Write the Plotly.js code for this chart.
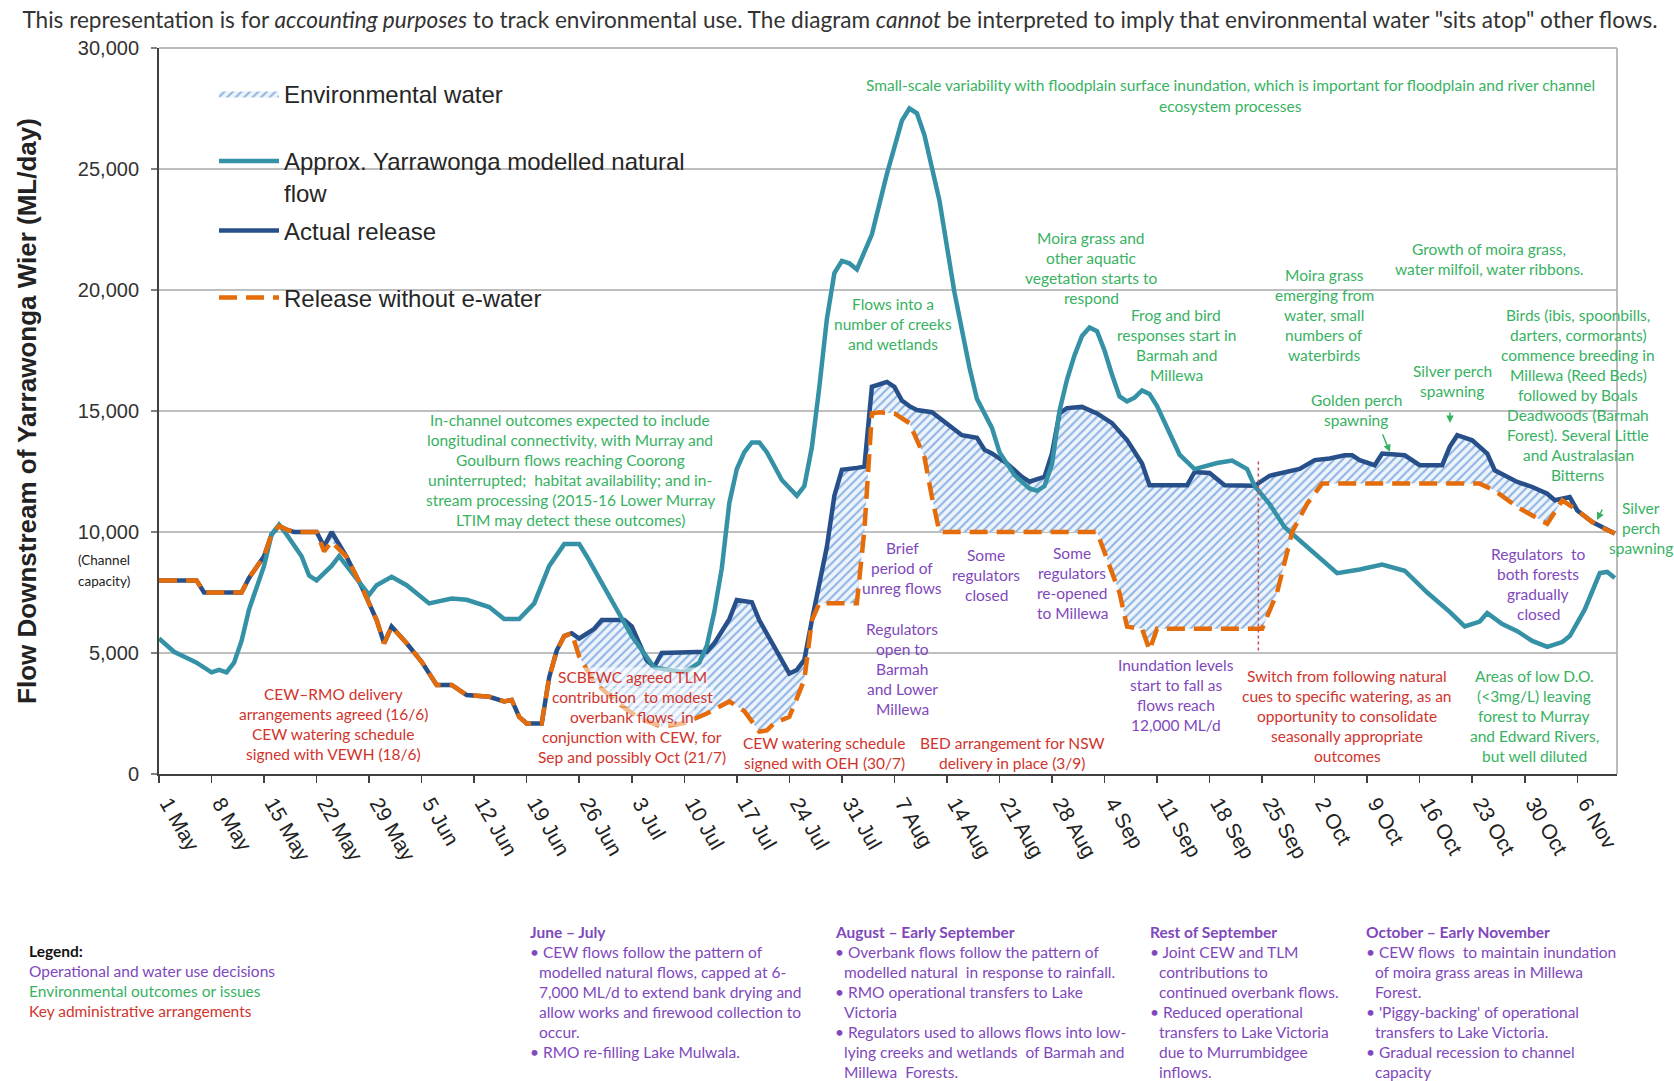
<!DOCTYPE html>
<html><head><meta charset="utf-8">
<script src="https://cdn.plot.ly/plotly-3.0.1.min.js"></script>
<style>html,body{margin:0;padding:0;background:#fff}#chart{width:1674px;height:1081px}</style>
</head><body><div id="chart"></div>
<script>
// ---------------- DATA ----------------
const natDates = ['2015-05-01','2015-05-03','2015-05-05','2015-05-06','2015-05-08','2015-05-09','2015-05-10','2015-05-11','2015-05-12','2015-05-13','2015-05-15','2015-05-16','2015-05-17','2015-05-18','2015-05-20','2015-05-21','2015-05-22','2015-05-24','2015-05-25','2015-05-27','2015-05-29','2015-05-30','2015-06-01','2015-06-03','2015-06-05','2015-06-06','2015-06-09','2015-06-11','2015-06-14','2015-06-16','2015-06-18','2015-06-20','2015-06-22','2015-06-24','2015-06-26','2015-06-27','2015-06-29','2015-07-01','2015-07-03','2015-07-06','2015-07-08','2015-07-10','2015-07-12','2015-07-13','2015-07-14','2015-07-15','2015-07-16','2015-07-17','2015-07-18','2015-07-19','2015-07-20','2015-07-21','2015-07-23','2015-07-25','2015-07-26','2015-07-27','2015-07-28','2015-07-29','2015-07-30','2015-07-31','2015-08-01','2015-08-02','2015-08-04','2015-08-06','2015-08-08','2015-08-09','2015-08-10','2015-08-11','2015-08-13','2015-08-15','2015-08-17','2015-08-18','2015-08-20','2015-08-21','2015-08-23','2015-08-25','2015-08-26','2015-08-27','2015-08-28','2015-08-29','2015-08-30','2015-08-31','2015-09-01','2015-09-02','2015-09-03','2015-09-04','2015-09-05','2015-09-06','2015-09-07','2015-09-08','2015-09-09','2015-09-10','2015-09-11','2015-09-13','2015-09-14','2015-09-16','2015-09-19','2015-09-21','2015-09-23','2015-09-24','2015-09-26','2015-09-28','2015-09-30','2015-10-02','2015-10-05','2015-10-08','2015-10-11','2015-10-14','2015-10-17','2015-10-20','2015-10-22','2015-10-24','2015-10-25','2015-10-27','2015-10-29','2015-10-31','2015-11-02','2015-11-04','2015-11-05','2015-11-07','2015-11-09','2015-11-10','2015-11-11'];
const natFlow = [5600,5050,4750,4600,4200,4300,4200,4600,5500,6800,8600,9900,10300,9900,9000,8200,8000,8600,9000,8200,7400,7800,8150,7800,7300,7050,7250,7200,6900,6400,6400,7050,8600,9500,9500,9000,7900,6800,5700,4400,4300,4200,4600,5300,6700,8500,11200,12600,13300,13700,13700,13300,12150,11500,11900,13500,16000,18800,20700,21200,21100,20850,22300,24800,27000,27500,27300,26400,23700,19900,16800,15500,14300,13300,12350,11800,11700,11900,12800,15000,16300,17300,18100,18450,18300,17500,16500,15600,15400,15550,15850,15700,15200,13900,13200,12600,12850,12950,12600,11900,11150,10200,9650,9100,8300,8450,8650,8400,7500,6700,6100,6300,6650,6200,5900,5500,5250,5450,5700,6800,8300,8350,8100];

const relDates = ['2015-05-01','2015-05-06','2015-05-07','2015-05-12','2015-05-13','2015-05-15','2015-05-16','2015-05-17','2015-05-18','2015-05-19','2015-05-22','2015-05-23','2015-05-24','2015-05-26','2015-05-28','2015-05-30','2015-05-31','2015-06-01','2015-06-03','2015-06-05','2015-06-07','2015-06-09','2015-06-11','2015-06-14','2015-06-16','2015-06-17','2015-06-18','2015-06-19','2015-06-21','2015-06-22','2015-06-23','2015-06-24','2015-06-25','2015-06-26','2015-06-28','2015-06-29','2015-07-02','2015-07-03','2015-07-05','2015-07-06','2015-07-07','2015-07-13','2015-07-14','2015-07-16','2015-07-17','2015-07-19','2015-07-20','2015-07-22','2015-07-24','2015-07-25','2015-07-26','2015-07-27','2015-07-29','2015-07-30','2015-07-31','2015-08-02','2015-08-03','2015-08-04','2015-08-06','2015-08-07','2015-08-08','2015-08-09','2015-08-10','2015-08-12','2015-08-14','2015-08-16','2015-08-18','2015-08-19','2015-08-20','2015-08-22','2015-08-24','2015-08-25','2015-08-27','2015-08-28','2015-08-29','2015-08-30','2015-09-01','2015-09-03','2015-09-05','2015-09-07','2015-09-09','2015-09-10','2015-09-15','2015-09-16','2015-09-18','2015-09-20','2015-09-24','2015-09-26','2015-09-30','2015-10-02','2015-10-04','2015-10-06','2015-10-07','2015-10-08','2015-10-10','2015-10-11','2015-10-14','2015-10-16','2015-10-19','2015-10-20','2015-10-21','2015-10-23','2015-10-25','2015-10-26','2015-10-29','2015-10-31','2015-11-02','2015-11-03','2015-11-05','2015-11-06','2015-11-08','2015-11-10','2015-11-11'];
const relFlow = [8000,8000,7500,7500,8100,9000,9900,10250,10100,10000,10000,9400,10000,8970,7740,6360,5400,6090,5400,4640,3680,3680,3260,3190,3000,3060,2360,2090,2090,4000,5100,5700,5820,5600,6000,6360,6360,6100,4700,4430,5000,5050,5400,6400,7190,7100,6350,5250,4150,4300,4720,6350,9390,11500,12570,12650,12700,16000,16200,16000,15430,15200,15040,14950,14500,14000,13890,13400,13250,12830,12280,12080,12280,13250,14900,15120,15170,14900,14500,13800,12830,11930,11930,12480,12440,11930,11910,12325,12610,12970,13040,13170,13170,12970,12760,13240,13170,12760,12760,13520,14000,13790,13240,12550,12070,11860,11580,11310,11440,10890,10410,10070,9940];

const noEwDates = ['2015-05-01','2015-05-06','2015-05-07','2015-05-12','2015-05-13','2015-05-15','2015-05-16','2015-05-17','2015-05-18','2015-05-19','2015-05-22','2015-05-23','2015-05-24','2015-05-26','2015-05-28','2015-05-30','2015-05-31','2015-06-01','2015-06-03','2015-06-05','2015-06-07','2015-06-09','2015-06-11','2015-06-14','2015-06-16','2015-06-17','2015-06-18','2015-06-19','2015-06-21','2015-06-22','2015-06-23','2015-06-24','2015-06-25','2015-06-26','2015-06-28','2015-07-01','2015-07-04','2015-07-07','2015-07-10','2015-07-13','2015-07-16','2015-07-18','2015-07-20','2015-07-21','2015-07-22','2015-07-24','2015-07-26','2015-07-27','2015-07-28','2015-08-02','2015-08-03','2015-08-04','2015-08-05','2015-08-07','2015-08-09','2015-08-11','2015-08-12','2015-08-13','2015-09-03','2015-09-04','2015-09-06','2015-09-07','2015-09-09','2015-09-10','2015-09-11','2015-09-25','2015-09-27','2015-09-29','2015-10-01','2015-10-03','2015-10-24','2015-10-26','2015-10-29','2015-11-02','2015-11-04','2015-11-06','2015-11-08','2015-11-10','2015-11-11'];
const noEwFlow = [8000,8000,7500,7500,8100,9000,9900,10250,10100,10000,10000,9200,9600,8970,7740,6360,5400,6090,5400,4640,3680,3680,3260,3190,3000,3060,2360,2090,2090,4000,5100,5700,5820,4850,3800,2970,2300,1950,2100,2500,3000,2600,1750,1800,2100,2360,3900,6350,7060,7060,10080,14900,14950,14900,14500,13100,11440,10000,10000,9130,7480,6090,6000,5120,6000,6000,7500,10000,11170,12000,12000,11710,11030,10340,11310,10890,10410,10070,9940];

const seriesNames = ['Environmental water','Approx. Yarrawonga modelled natural<br>flow','Actual release','Release without e-water'];
const yTitle = 'Flow Downstream of Yarrawonga Wier (ML/day)';
const topNote = 'This representation is for <i>accounting purposes</i> to track environmental use. The diagram <i>cannot</i> be interpreted to imply that environmental water "sits atop" other flows.';
const channelNote = ['(Channel','capacity)'];
const switchMarkerDate = '2015-09-24 12:00';
const switchMarkerRange = [5100, 13000];

// green: environmental outcomes
const noteFloodplain = ['Small-scale variability with floodplain surface inundation, which is important for floodplain and river channel','ecosystem processes'];
const noteMoiraVeg = ['Moira grass and','other aquatic','vegetation starts to','respond'];
const noteCreeks = ['Flows into a','number of creeks','and wetlands'];
const noteFrog = ['Frog and bird','responses start in','Barmah and','Millewa'];
const noteMoiraEmerg = ['Moira grass','emerging from','water, small','numbers of','waterbirds'];
const noteGrowth = ['Growth of moira grass,','water milfoil, water ribbons.'];
const noteBirds = ['Birds (ibis, spoonbills,','darters, cormorants)','commence breeding in','Millewa (Reed Beds)','followed by Boals','Deadwoods (Barmah','Forest). Several Little','and Australasian','Bitterns'];
const noteSilver1 = ['Silver perch','spawning'];
const noteGolden = ['Golden perch','spawning'];
const noteSilver2 = ['Silver','perch','spawning'];
const noteInChannel = ['In-channel outcomes expected to include','longitudinal connectivity, with Murray and','Goulburn flows reaching Coorong','uninterrupted;  habitat availability; and in-','stream processing (2015-16 Lower Murray','LTIM may detect these outcomes)'];
const noteLowDO = ['Areas of low D.O.','(&lt;3mg/L) leaving','forest to Murray','and Edward Rivers,','but well diluted'];
// purple: operational decisions
const noteBrief = ['Brief','period of','unreg flows'];
const noteRegOpen = ['Regulators','open to','Barmah','and Lower','Millewa'];
const noteRegClosed = ['Some','regulators','closed'];
const noteRegReopen = ['Some','regulators','re-opened','to Millewa'];
const noteInundation = ['Inundation levels','start to fall as','flows reach','12,000 ML/d'];
const noteForests = ['Regulators  to','both forests','gradually','closed'];
// red: administrative arrangements
const noteCewRmo = ['CEW–RMO delivery','arrangements agreed (16/6)','CEW watering schedule','signed with VEWH (18/6)'];
const noteScbewc = ['SCBEWC agreed TLM','contribution  to modest','overbank flows, in','conjunction with CEW, for','Sep and possibly Oct (21/7)'];
const noteOeh = ['CEW watering schedule','signed with OEH (30/7)'];
const noteBed = ['BED arrangement for NSW','delivery in place (3/9)'];
const noteSwitch = ['Switch from following natural','cues to specific watering, as an','opportunity to consolidate','seasonally appropriate','outcomes'];
// bottom blocks
const legendKey = ['<b>Legend:</b>','Operational and water use decisions','Environmental outcomes or issues','Key administrative arrangements'];
const periodJunJul = ['<b>June – July</b>','• CEW flows follow the pattern of','modelled natural flows, capped at 6-','7,000 ML/d to extend bank drying and','allow works and firewood collection to','occur.','• RMO re-filling Lake Mulwala.'];
const periodAug = ['<b>August – Early September</b>','• Overbank flows follow the pattern of','modelled natural  in response to rainfall.','• RMO operational transfers to Lake','Victoria','• Regulators used to allows flows into low-','lying creeks and wetlands  of Barmah and','Millewa  Forests.'];
const periodSep = ['<b>Rest of September</b>','• Joint CEW and TLM','contributions to','continued overbank flows.','• Reduced operational','transfers to Lake Victoria','due to Murrumbidgee','inflows.'];
const periodOct = ['<b>October – Early November</b>','• CEW flows  to maintain inundation','of moira grass areas in Millewa','Forest.','• \'Piggy-backing\' of operational','transfers to Lake Victoria.','• Gradual recession to channel','capacity'];

// ---------------- STYLE / LAYOUT ----------------
const TEAL = '#3591A6', BLUE = '#27508A', ORANGE = '#E46C0A';
const GREEN = '#38B262', PURPLE = '#8048BC', RED = '#D0342C';
const NOTE_FONT = 'Lato, "Open Sans", sans-serif';
const AX_FONT = '"Liberation Sans", Arial, sans-serif';
const NOTE_SIZE = 15.5;
const L = 159, R = 1617, T = 48, B = 774;
const px = X => (X - L) / (R - L);
const py = Y => (B - Y) / (B - T);

const annotations = [];
function addBlock(lines, X, Y, color, opt) {
  opt = opt || {};
  const lh = opt.lh || 20, anchor = opt.anchor || 'center', size = opt.size || NOTE_SIZE;
  lines.forEach((t, i) => {
    const indent = (opt.indent && i > 0 && t.charAt(0) !== '•') ? opt.indent : 0;
    const col = Array.isArray(color) ? color[i] : color;
    const a = {xref:'paper', yref:'paper', x:px(X), y:py(Y + i*lh), xshift:indent, text:t,
      showarrow:false, xanchor:anchor, yanchor:'middle',
      font:{family:NOTE_FONT, size:size, color:col}};
    if (opt.bg) { a.bgcolor = opt.bg; a.borderpad = 0; }
    annotations.push(a);
  });
}
addBlock(noteFloodplain, 1230, 85, GREEN, {lh:21});
addBlock(noteMoiraVeg, 1091, 238, GREEN);
addBlock(noteCreeks, 893, 304, GREEN);
addBlock(noteFrog, 1176, 315, GREEN);
addBlock(noteMoiraEmerg, 1324, 275, GREEN);
addBlock(noteGrowth, 1489, 249, GREEN);
addBlock(noteBirds, 1578, 315, GREEN);
addBlock(noteSilver1, 1452, 371, GREEN);
addBlock(noteGolden, 1356, 400, GREEN);
addBlock(noteSilver2, 1641, 508, GREEN);
addBlock(noteInChannel, 570, 420, GREEN);
addBlock(noteLowDO, 1534, 676, GREEN);
addBlock(noteBrief, 902, 548, PURPLE);
addBlock(noteRegOpen, 902, 629, PURPLE);
addBlock(noteRegClosed, 986, 555, PURPLE);
addBlock(noteRegReopen, 1072, 553, PURPLE);
addBlock(noteInundation, 1176, 665, PURPLE);
addBlock(noteForests, 1538, 554, PURPLE);
addBlock(noteCewRmo, 333, 694, RED);
addBlock(noteScbewc, 632, 677, RED, {bg:'rgba(255,255,255,0.55)'});
addBlock(noteOeh, 824, 743, RED);
addBlock(noteBed, 1012, 743, RED);
addBlock(noteSwitch, 1347, 676, RED);
addBlock(channelNote, 104, 560, '#222', {lh:21, size:13.5});
addBlock(legendKey, 27, 951, ['#111', PURPLE, GREEN, RED], {anchor:'left'});
addBlock(periodJunJul, 528, 932, PURPLE, {anchor:'left', indent:9});
addBlock(periodAug, 833, 932, PURPLE, {anchor:'left', indent:9});
addBlock(periodSep, 1148, 932, PURPLE, {anchor:'left', indent:9});
addBlock(periodOct, 1364, 932, PURPLE, {anchor:'left', indent:9});
// small spawning arrows
[[1390,452,-8,-19],[1450,423,0,-12],[1597,520,6,-12]].forEach(a => annotations.push({
  xref:'paper', yref:'paper', x:px(a[0]), y:py(a[1]), ax:a[2], ay:a[3], text:'',
  showarrow:true, arrowhead:2, arrowsize:1, arrowwidth:1.5, arrowcolor:GREEN}));

const traces = [
  {x:noEwDates, y:noEwFlow, type:'scatter', mode:'lines', line:{width:0, color:'rgba(0,0,0,0)'},
   showlegend:false, hoverinfo:'skip'},
  {x:relDates, y:relFlow, type:'scatter', mode:'lines', line:{width:0, color:'rgba(0,0,0,0)'},
   fill:'tonexty', fillcolor:'#EEF4FC',
   fillpattern:{shape:'/', fgcolor:'#8EB4E3', bgcolor:'#EEF4FC', size:6, solidity:0.35, fillmode:'replace'},
   name:seriesNames[0], legend:'legend'},
  {x:relDates, y:relFlow, type:'scatter', mode:'lines', line:{color:BLUE, width:4.5},
   name:seriesNames[2], legend:'legend3'},
  {x:natDates, y:natFlow, type:'scatter', mode:'lines', line:{color:TEAL, width:4.5},
   name:seriesNames[1], legend:'legend2'},
  {x:noEwDates, y:noEwFlow, type:'scatter', mode:'lines', line:{color:ORANGE, width:4.5, dash:'18px,9px'},
   name:seriesNames[3], legend:'legend4'}
];

const legFont = {family:AX_FONT, size:24, color:'#262626'};
function leg(Y, extra) {
  return Object.assign({x:px(214), y:py(Y), xanchor:'left', yanchor:'middle', bgcolor:'rgba(0,0,0,0)',
    borderwidth:0, font:legFont, itemwidth:60}, extra || {});
}

const layout = {
  width:1674, height:1081,
  margin:{l:L, r:1674-R, t:T, b:1081-B},
  paper_bgcolor:'#fff', plot_bgcolor:'#fff',
  title:{text:topNote, font:{family:NOTE_FONT, size:22.6, color:'#333'}, xref:'container', x:840/1674,
    xanchor:'center', yref:'container', y:1-20/1081, yanchor:'middle'},
  xaxis:{type:'date', range:['2015-05-01','2015-11-11 07:00'], tick0:'2015-05-01', dtick:7*86400000,
    tickformat:'%-d %b', tickangle:60, ticks:'outside', ticklen:7, tickwidth:1.5, tickcolor:'#404040',
    ticklabelshift:9,
    showline:true, linecolor:'#404040', linewidth:2, showgrid:false, zeroline:false,
    tickfont:{family:AX_FONT, size:21, color:'#222'}},
  yaxis:{range:[0,30000], dtick:5000, tickformat:',d', ticks:'outside', ticklen:6, tickwidth:1.5,
    tickcolor:'#808080', showline:true, linecolor:'#404040', linewidth:2, showgrid:true,
    gridcolor:'#BFBFBF', gridwidth:1.5, zeroline:false, ticklabelstandoff:8,
    tickfont:{family:AX_FONT, size:20, color:'#333'},
    title:{text:yTitle, font:{family:AX_FONT, size:26, weight:'bold', color:'#222'}, standoff:34}},
  legend:leg(94),
  legend2:leg(177, {valign:'top'}),
  legend3:leg(231),
  legend4:leg(298),
  shapes:[
    {type:'rect', xref:'paper', yref:'paper', x0:px(190), x1:px(716), y0:py(330), y1:py(58),
     fillcolor:'#fff', line:{width:0}, layer:'between'},
    {type:'line', xref:'paper', x0:0, x1:1, yref:'y', y0:10000, y1:10000,
     line:{color:'#404040', width:1.8}, layer:'between'},
    {type:'line', xref:'paper', x0:1, x1:1, yref:'paper', y0:0, y1:1, line:{color:'#A6A6A6', width:1.5}},
    {type:'line', xref:'paper', x0:0, x1:1, yref:'paper', y0:1, y1:1, line:{color:'#A6A6A6', width:1.5}},
    {type:'line', xref:'x', x0:switchMarkerDate, x1:switchMarkerDate, yref:'y', y0:switchMarkerRange[0], y1:switchMarkerRange[1],
     line:{color:'#C0504D', width:1.5, dash:'dot'}}
  ],
  annotations:annotations,
  showlegend:true
};

Plotly.newPlot('chart', traces, layout, {staticPlot:true, displayModeBar:false});
</script></body></html>
